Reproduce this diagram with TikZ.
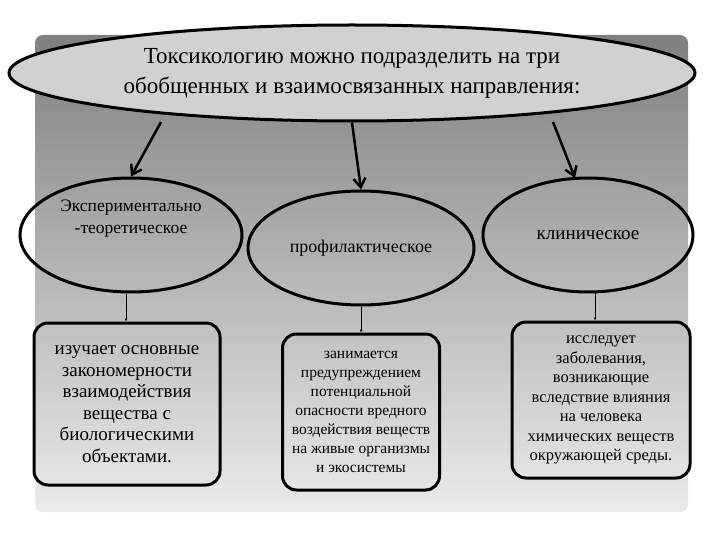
\documentclass[tikz,border=0pt]{standalone}
\usepackage{fontspec}
\setmainfont{Liberation Serif}
\usetikzlibrary{shapes.geometric,arrows.meta}
\begin{document}
\begin{tikzpicture}[x=1pt,y=-1pt,
  ell/.style={draw=black,line width=3pt,ellipse,inner sep=0pt,align=center},
  box/.style={draw=black,line width=3pt,rounded corners=14pt,align=center,inner sep=2pt},
  big/.style={line width=2.5pt,-{Straight Barb[length=9pt,width=12pt,line width=2.5pt]}},
  thin/.style={line width=0.8pt,-{Latex[length=3pt,width=3pt]}}]
\useasboundingbox (0,0) rectangle (720,540);
\fill[white] (0,0) rectangle (720,540);
\shade[top color=black!50,bottom color=black!8,rounded corners=8pt] (35,35) rectangle (688,512);
\node[ell,fill=black!18,minimum width=686,minimum height=96,font=\fontsize{23}{30}\selectfont] (top) at (352,73) {Токсикологию можно подразделить на три\\обобщенных и взаимосвязанных направления:};
\node[ell,minimum width=222,minimum height=114,font=\fontsize{17.5}{22}\selectfont] (e1) at (131,235) {Экспериментально\\-теоретическое\\[14pt]};
\node[ell,minimum width=226,minimum height=114,font=\fontsize{18}{20}\selectfont] (e2) at (361,248) {профилактическое};
\node[ell,minimum width=210,minimum height=114,font=\fontsize{19}{20}\selectfont] (e3) at (588,235) {клиническое};
\node[box,minimum width=186,minimum height=162,font=\fontsize{19}{21.5}\selectfont] (b1) at (127,404) {изучает основные\\закономерности\\взаимодействия\\вещества с\\биологическими\\объектами.};
\node[box,minimum width=157,minimum height=156,font=\fontsize{15.5}{19}\selectfont] (b2) at (361,412) {занимается\\предупреждением\\потенциальной\\опасности вредного\\воздействия веществ\\на живые организмы\\и экосистемы};
\node[box,minimum width=178,minimum height=156,font=\fontsize{16.5}{19.5}\selectfont] (b3) at (601,400) {исследует\\заболевания,\\возникающие\\вследствие влияния\\на человека\\химических веществ\\окружающей среды.};
\draw[big] (161,122) -- (e1.north);
\draw[big] (top.south) -- (e2.north);
\draw[big] (553,122) -- (575,178);
\draw[thin] (e1.south) ++(-5,0) -- (b1.north -| 126,0);
\draw[thin] (e2.south) -- (b2.north);
\draw[thin] (595,292) -- (b3.north -| 595,0);
\end{tikzpicture}
\end{document}
